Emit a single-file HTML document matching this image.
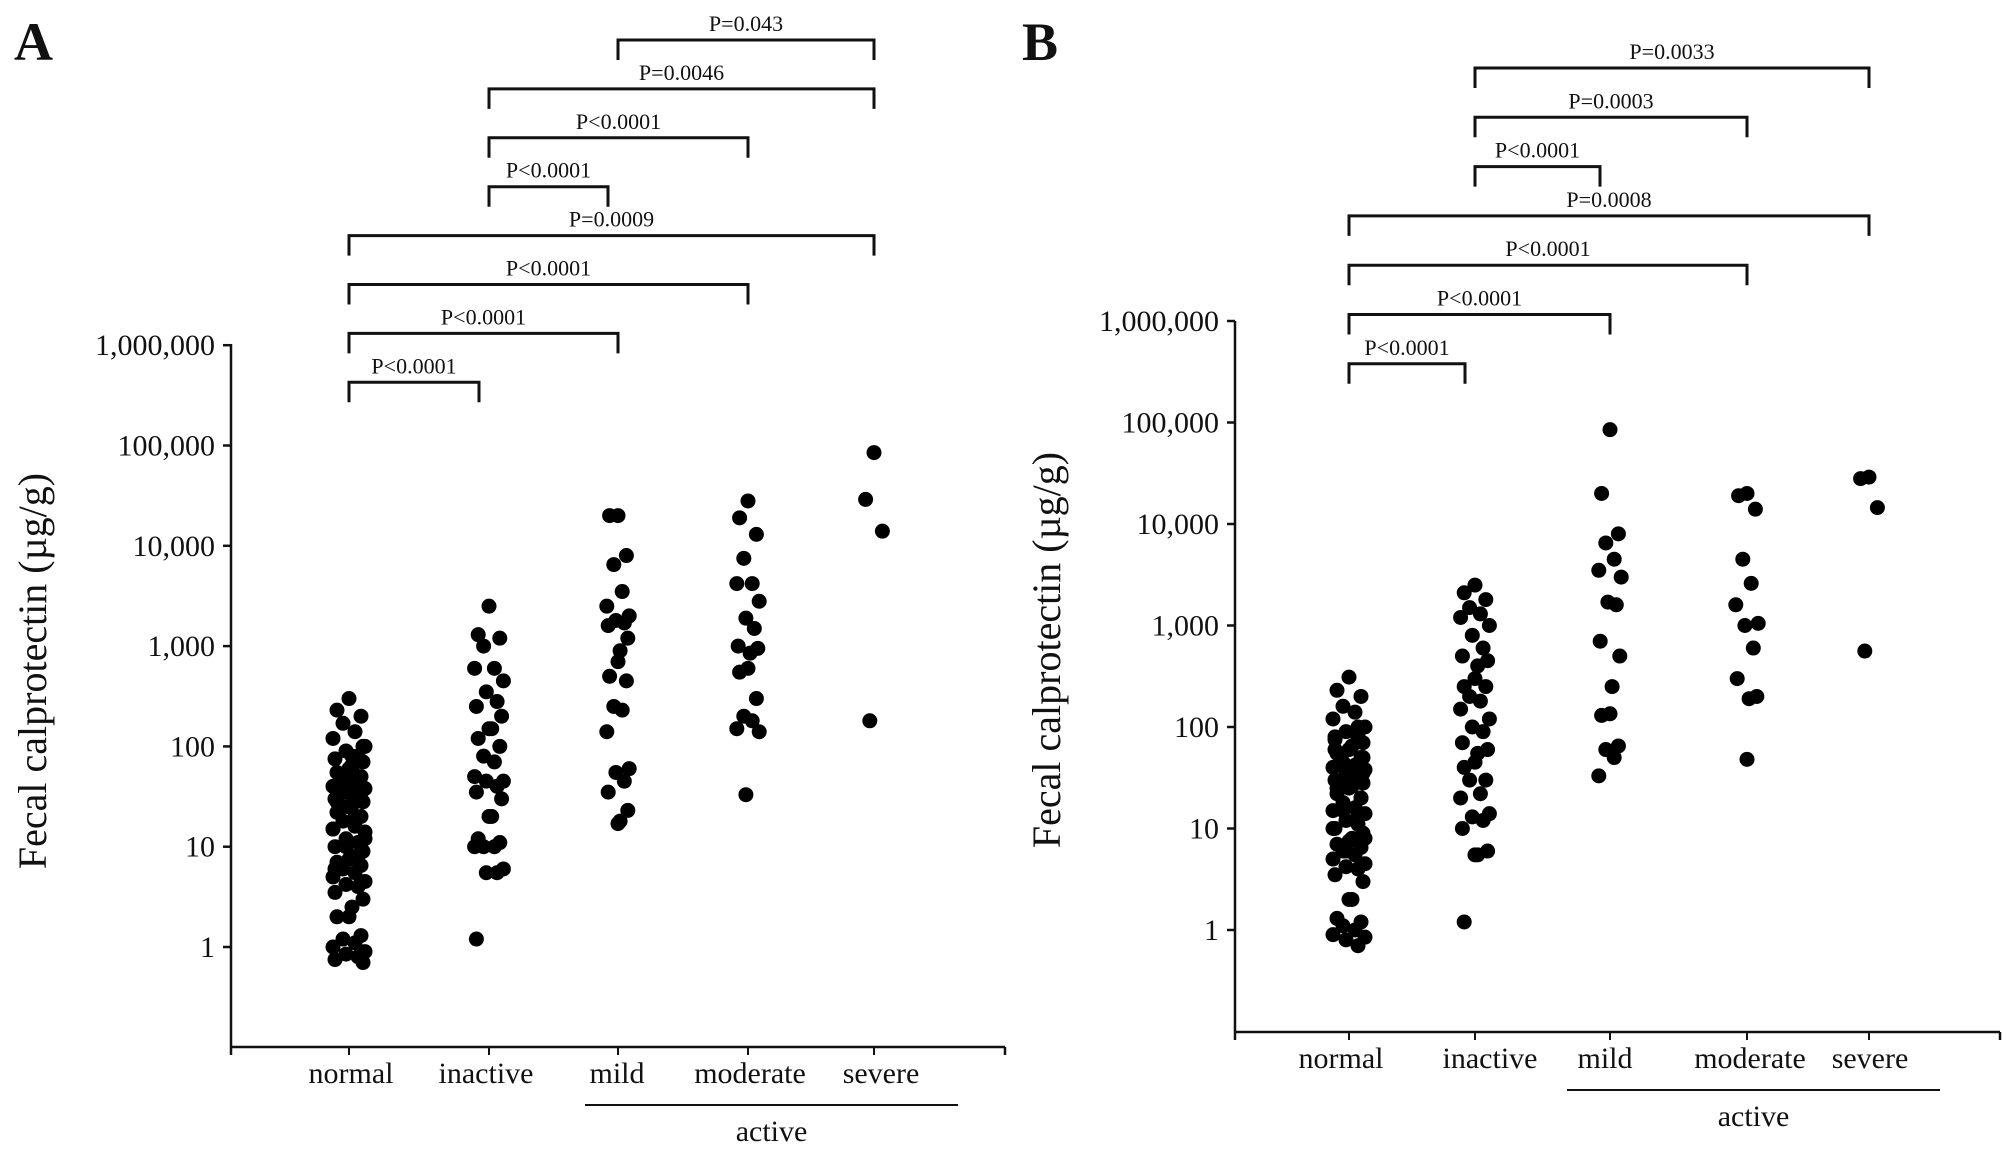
<!DOCTYPE html>
<html><head><meta charset="utf-8"><style>
html,body{margin:0;padding:0;background:#fff;}
svg{display:block;}
text{font-family:"Liberation Serif",serif;fill:#111;}
</style></head><body>
<svg id="chart" width="2008" height="1155" viewBox="0 0 2008 1155"></svg>
<script>
const categories = ["normal","inactive","mild","moderate","severe"];
const tickValues = [1,10,100,1000,10000,100000,1000000];
const tickLabels = ["1","10","100","1,000","10,000","100,000","1,000,000"];

const aNormal = [300,230,200,170,140,120,100,90,80,75,70,65,60,55,50,45,42,40,38,35,32,30,28,26,25,22,20,18,16,15,14,12,11,10,9,8,7.5,7,6.5,6,5.5,5,4.5,4.2,4,3.5,3,2.5,2,2,1.3,1.2,1.1,1,0.9,0.85,0.8,0.75,0.7,60,50,40,30,25,20,15,12,10,8,6,100,80,35,28];
const aInactive = [2500,1300,1200,1000,600,600,450,350,280,250,200,150,150,120,100,80,70,50,45,45,40,35,30,20,20,12,11,10,10,10,6,5.5,5.5,1.2];
const aMild = [20000,20000,8000,6500,3500,2500,2000,1800,1700,1600,1200,900,700,500,450,250,230,140,60,55,45,35,23,18,17];
const aModerate = [28000,19000,13000,7500,4200,4200,2800,1900,1500,1000,950,850,600,550,300,200,180,150,140,33];
const aSevere = [85000,29000,14000,180];

const bNormal = [310,230,200,160,140,120,100,90,80,75,70,65,60,55,50,45,42,40,38,35,32,30,28,26,25,22,20,18,16,15,14,12,11,10,9,8,7.5,7,6.5,6,5.5,5,4.5,4.2,4,3.5,3,2,2,1.3,1.2,1.1,1,0.9,0.85,0.8,0.7,60,50,40,30,25,20,15,12,10,8,6,100,80,35,28];
const bInactive = [2500,2100,1800,1500,1300,1200,1000,800,600,500,450,400,300,250,250,200,180,150,120,100,90,70,60,55,45,40,30,30,22,20,14,13,12,10,6,5.5,5.5,1.2];
const bMild = [85000,20000,8000,6500,4500,3500,3000,1700,1600,700,500,250,135,130,65,60,50,33];
const bModerate = [20000,19000,14000,4500,2600,1600,1050,1000,600,300,200,190,48];
const bSevere = [29000,28000,14500,560];

const aBracketLabels = ["P=0.043","P=0.0046","P<0.0001","P<0.0001","P=0.0009","P<0.0001","P<0.0001","P<0.0001"];
const aBracketFrom = [2,1,1,1,0,0,0,0];
const aBracketTo = [4,4,3,2,4,3,2,1];
const bBracketLabels = ["P=0.0033","P=0.0003","P<0.0001","P=0.0008","P<0.0001","P<0.0001","P<0.0001"];
const bBracketFrom = [1,1,1,0,0,0,0];
const bBracketTo = [4,3,2,4,3,2,1];

const NS="http://www.w3.org/2000/svg";
const svg=document.getElementById('chart');
function mk(tag,attrs,parent){const e=document.createElementNS(NS,tag);for(const k in attrs)e.setAttribute(k,attrs[k]);(parent||svg).appendChild(e);return e;}

function panel(cfg){
  const g=mk('g',{});
  
  
  const y=v=>cfg.y1-(Math.log10(v))*cfg.dec;
  const x=i=>cfg.cx[i];
  const lbl=mk('text',{x:cfg.letterX,y:cfg.letterY,'font-size':54,'font-weight':'bold'},g);lbl.textContent=cfg.letter;
  
  
  const ya=mk('line',{x1:cfg.ax,y1:cfg.top,x2:cfg.ax,y2:cfg.bottom,stroke:'#111','stroke-width':2.5},g);
  
  
  const xa=mk('line',{x1:cfg.ax,y1:cfg.bottom,x2:cfg.xend,y2:cfg.bottom,stroke:'#111','stroke-width':2.5},g);
  
  
  mk('line',{x1:cfg.ax,y1:cfg.bottom,x2:cfg.ax,y2:cfg.bottom+8,stroke:'#111','stroke-width':2.5},g);
  mk('line',{x1:cfg.xend,y1:cfg.bottom,x2:cfg.xend,y2:cfg.bottom+8,stroke:'#111','stroke-width':2.5},g);
  tickValues.forEach((v,i)=>{
    mk('line',{x1:cfg.ax-8,y1:y(v),x2:cfg.ax,y2:y(v),stroke:'#111','stroke-width':2.5},g);
    const t=mk('text',{x:cfg.ax-16,y:y(v)+10,'font-size':30,'text-anchor':'end'},g);t.textContent=tickLabels[i];
    
    
  });
  categories.forEach((c,i)=>{
    mk('line',{x1:x(i),y1:cfg.bottom,x2:x(i),y2:cfg.bottom+8,stroke:'#111','stroke-width':2},g);
    const t=mk('text',{x:cfg.lx[i],y:cfg.bottom+36,'font-size':30,'text-anchor':'middle'},g);t.textContent=c;
    
    
  });
  const al=mk('line',{x1:cfg.activeX1,y1:cfg.bottom+58,x2:cfg.activeX2,y2:cfg.bottom+58,stroke:'#111','stroke-width':2},g);
  
  
  const at=mk('text',{x:(cfg.activeX1+cfg.activeX2)/2,y:cfg.bottom+94,'font-size':30,'text-anchor':'middle'},g);at.textContent='active';
  
  
  const yt=mk('text',{x:0,y:0,'font-size':40,'text-anchor':'middle',transform:`translate(${cfg.titleX},${cfg.titleY}) rotate(-90)`},g);
  yt.textContent='Fecal calprotectin (µg/g)';
  
  
  const jit=[0,-12,12,-6,6,-16,16,-3,9,-14,14,3];
  cfg.series.forEach((arr,ci)=>{
    arr.forEach((v,j)=>{
      const w=ci===0?1.0:(ci===1?0.9:0.7);
      const c=mk('circle',{cx:x(ci)+jit[j%jit.length]*w,cy:y(v),r:7.5,fill:'#000'},g);
      
      
    });
  });
  cfg.bl.forEach((l,i)=>{
    const by=cfg.by0+i*cfg.bstep;
    const x1=x(cfg.bf[i]),x2=x(cfg.bt[i])-(cfg.bt[i]>cfg.bf[i]+1?0:10);
    const p=mk('path',{d:`M${x1},${by+20}V${by}H${x2}V${by+20}`,stroke:'#111','stroke-width':3,fill:'none'},g);
    
    
    const t=mk('text',{x:(x1+x2)/2,y:by-9,'font-size':22,'text-anchor':'middle'},g);t.textContent=l;
    
    
  });
}

panel({name:'panel-a',letter:'A',letterX:14,letterY:60,ax:231,top:344,bottom:1047,xend:1005,y1:947,dec:100.3,
  cx:[349,489,618,748,874],lx:[351,486,617,750,881],activeX1:585,activeX2:958,titleX:46,titleY:671,
  series:[aNormal,aInactive,aMild,aModerate,aSevere],
  bl:aBracketLabels,bf:aBracketFrom,bt:aBracketTo,by0:40,bstep:48.9});
panel({name:'panel-b',letter:'B',letterX:1022,letterY:60,ax:1235,top:321,bottom:1032,xend:2000,y1:930,dec:101.5,
  cx:[1349,1475,1610,1747,1869],lx:[1341,1490,1605,1750,1870],activeX1:1567,activeX2:1940,titleX:1060,titleY:650,
  series:[bNormal,bInactive,bMild,bModerate,bSevere],
  bl:bBracketLabels,bf:bBracketFrom,bt:bBracketTo,by0:68,bstep:49.3});
</script>
</body></html>
